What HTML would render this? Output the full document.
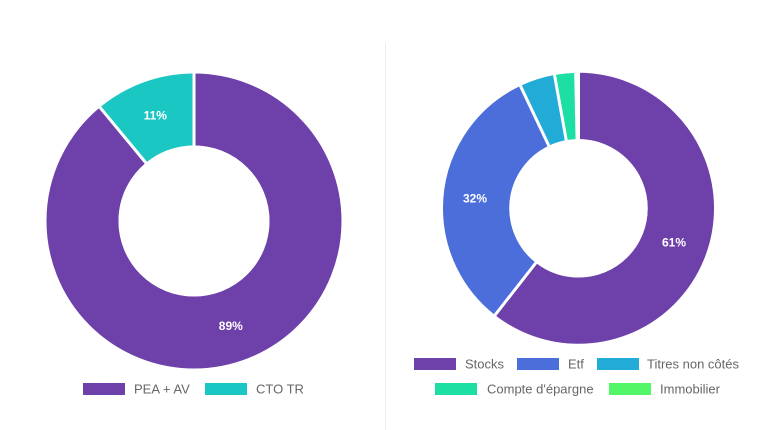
<!DOCTYPE html>
<html>
<head>
<meta charset="utf-8">
<style>
  html,body{margin:0;padding:0;background:#fff;}
  body{width:768px;height:430px;overflow:hidden;position:relative;}
  svg{position:absolute;left:0;top:0;}
  .pct{font-family:"Liberation Sans",Arial,sans-serif;font-weight:bold;font-size:12px;fill:#fff;}
  .lg{font-family:"Liberation Sans",Arial,sans-serif;font-size:13px;fill:#666;}
</style>
</head>
<body>
<svg width="768" height="430" viewBox="0 0 768 430" xmlns="http://www.w3.org/2000/svg">
  <!-- divider -->
  <line x1="385.5" y1="43" x2="385.5" y2="430" stroke="#ececec" stroke-width="1"/>

  <!-- LEFT DONUT -->
  <g transform="rotate(-90 194 221)" fill="none">
    <circle cx="194" cy="221" r="111.5" stroke="#6e40aa" stroke-width="72" stroke-dasharray="623.51 2000" stroke-dashoffset="0"/>
    <circle cx="194" cy="221" r="111.5" stroke="#1ac7c2" stroke-width="72" stroke-dasharray="77.06 2000" stroke-dashoffset="-623.51"/>
  </g>
  <g stroke="#fff" stroke-width="3">
    <line x1="194" y1="221" x2="194" y2="69"/>
    <line x1="194" y1="221" x2="97.1" y2="103.9"/>
  </g>
  <circle cx="194" cy="221" r="75.5" fill="#fff"/>
  <text class="pct" x="155.3" y="119.7" text-anchor="middle">11%</text>
  <text class="pct" x="230.8" y="330" text-anchor="middle">89%</text>

  <!-- RIGHT DONUT -->
  <g transform="rotate(-90 578.5 208.3)" fill="none">
    <circle cx="578.5" cy="208.3" r="102.35" stroke="#6e40aa" stroke-width="66.3" stroke-dasharray="389.43 2000" stroke-dashoffset="0"/>
    <circle cx="578.5" cy="208.3" r="102.35" stroke="#4c6edb" stroke-width="66.3" stroke-dasharray="208.29 2000" stroke-dashoffset="-389.43"/>
    <circle cx="578.5" cy="208.3" r="102.35" stroke="#23abd8" stroke-width="66.3" stroke-dasharray="27.15 2000" stroke-dashoffset="-597.72"/>
    <circle cx="578.5" cy="208.3" r="102.35" stroke="#1ddfa3" stroke-width="66.3" stroke-dasharray="16.08 2000" stroke-dashoffset="-624.87"/>
  </g>
  <g stroke="#fff" stroke-width="3">
    <line x1="578.5" y1="208.3" x2="578.5" y2="68.3"/>
    <line x1="578.5" y1="208.3" x2="492.3" y2="318.6"/>
    <line x1="578.5" y1="208.3" x2="518.5" y2="81.8"/>
    <line x1="578.5" y1="208.3" x2="553.7" y2="70.5"/>
    <line x1="578.5" y1="208.3" x2="575.6" y2="68.3"/>
  </g>
  <circle cx="578.5" cy="208.3" r="69.2" fill="#fff"/>
  <text class="pct" x="475" y="202.5" text-anchor="middle">32%</text>
  <text class="pct" x="674" y="246.5" text-anchor="middle">61%</text>

  <!-- LEFT LEGEND -->
  <rect x="83" y="383" width="42" height="12" fill="#6e40aa"/>
  <text class="lg" x="134" y="393.5">PEA + AV</text>
  <rect x="205" y="383" width="42" height="12" fill="#1ac7c2"/>
  <text class="lg" x="256" y="393.5">CTO TR</text>

  <!-- RIGHT LEGEND -->
  <rect x="414" y="358" width="42" height="12" fill="#6e40aa"/>
  <text class="lg" x="465" y="368.5">Stocks</text>
  <rect x="517" y="358" width="42" height="12" fill="#4c6edb"/>
  <text class="lg" x="568" y="368.5">Etf</text>
  <rect x="597" y="358" width="42" height="12" fill="#23abd8"/>
  <text class="lg" x="647" y="368.5">Titres non côtés</text>

  <rect x="435" y="383" width="42" height="12" fill="#1ddfa3"/>
  <text class="lg" x="487" y="393.5">Compte d'épargne</text>
  <rect x="609" y="383" width="42" height="12" fill="#52f667"/>
  <text class="lg" x="660" y="393.5">Immobilier</text>
</svg>
</body>
</html>
